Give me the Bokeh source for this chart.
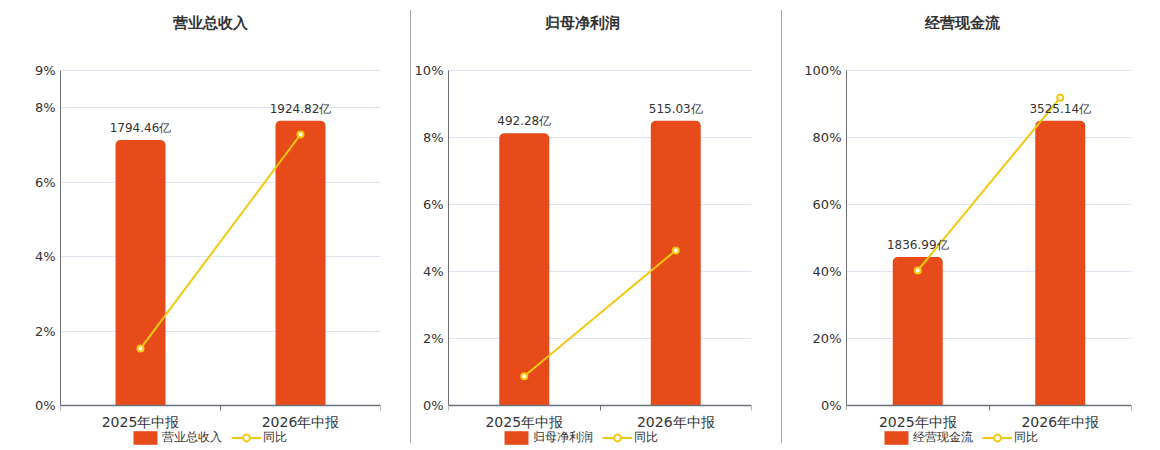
from bokeh.plotting import figure
from bokeh.layouts import row
from bokeh.models import (Range1d, FixedTicker, PrintfTickFormatter, ColumnDataSource,
                          Legend, LegendItem, LabelSet, Label, Div)
from bokeh.core.properties import value
from bokeh.embed import file_html
from bokeh.resources import INLINE

periods = ["2025年中报", "2026年中报"]
titles = ["营业总收入", "归母净利润", "经营现金流"]
revenue = [1794.46, 1924.82]
revenue_yoy = [1.53, 7.28]
profit = [492.28, 515.03]
profit_yoy = [0.87, 4.63]
cashflow = [1836.99, 3525.14]
cashflow_yoy = [40.3, 91.9]
pct_max = [9, 10, 100]
pct_ticks = [[0, 2, 4, 6, 8, 9], [0, 2, 4, 6, 8, 10], [0, 20, 40, 60, 80, 100]]

amounts = [revenue, profit, cashflow]
yoys = [revenue_yoy, profit_yoy, cashflow_yoy]

FONT = "DejaVu Sans"
BAR = "#E84B1A"
LINE = "#F2C811"
AXIS = "#6E7079"
GRID = "#E0E6F1"
TXT = "#333333"

# vertical layout (pixels): frame spans the title, plot area and legend
TOP = 10          # frame top
PLOT_TOP = 70     # top of value area
PLOT_BOT = 405    # zero line
BOT = 448         # frame bottom
PH = PLOT_BOT - PLOT_TOP
FH = BOT - TOP

# per panel: (min_border_left, frame_width, min_border_right, title_x, legend_x)
layout = [(60, 320, 30, 150, 70), (36, 303, 30, 134, 53), (64, 285, 20, 116, 35)]


def padded(top_value):
    k = top_value / PH
    return Range1d(-(BOT - PLOT_BOT) * k, top_value + (PLOT_TOP - TOP) * k)


def make_panel(i):
    ml, fw, mr, tx, lx = layout[i]
    n = len(periods)
    centers = [k + 0.5 for k in range(n)]
    bounds = [k for k in range(n + 1)]
    vals = amounts[i]
    yoy = yoys[i]
    p = figure(frame_width=fw, frame_height=FH, x_range=Range1d(0, n),
               y_range=padded(pct_max[i]), output_backend="svg",
               toolbar_location=None, min_border_left=ml, min_border_right=mr,
               min_border_top=TOP, min_border_bottom=0)
    p.outline_line_color = None
    p.background_fill_color = "white"
    p.border_fill_color = "white"
    xa = p.below[0]
    ya = p.left[0]

    p.extra_y_ranges = {"amt": padded(max(vals) / 0.85)}

    src = ColumnDataSource(dict(x=centers, amt=vals, yoy=yoy,
                                lab=["%.2f亿" % v for v in vals]))
    bw = 50.0 * n / fw
    bars = p.vbar(x="x", top="amt", width=bw, source=src, y_range_name="amt",
                  fill_color=BAR, line_color=None, border_radius=(5, 5, 0, 0))
    labels = LabelSet(x="x", y="amt", text="lab", source=src, y_range_name="amt",
                      text_align="center", text_baseline="bottom", y_offset=5,
                      text_font=value(FONT), text_font_size="12px", text_color=TXT)
    p.add_layout(labels)
    ln = p.line("x", "yoy", source=src, line_color=LINE, line_width=2)
    pts = p.scatter("x", "yoy", source=src, size=6, fill_color="white",
                    line_color=LINE, line_width=2)

    # category axis pinned at zero
    xa.fixed_location = 0
    xa.ticker = FixedTicker(ticks=centers, minor_ticks=bounds)
    xa.major_label_overrides = {c: periods[k] for k, c in enumerate(centers)}
    xa.major_tick_line_color = None
    xa.major_tick_out = 5
    xa.major_tick_in = 0
    xa.minor_tick_line_color = AXIS
    xa.minor_tick_out = 5
    xa.minor_tick_in = 0
    xa.axis_line_color = AXIS
    xa.axis_line_width = 1.5
    xa.major_label_text_font = FONT
    xa.major_label_text_font_size = "14px"
    xa.major_label_text_color = TXT
    xa.major_label_standoff = 3
    xa.axis_label_standoff = 0

    ya.bounds = (0, pct_max[i])
    ya.ticker = FixedTicker(ticks=pct_ticks[i])
    ya.formatter = PrintfTickFormatter(format="%d%%")
    ya.major_tick_line_color = None
    ya.major_tick_out = 0
    ya.major_tick_in = 0
    ya.minor_tick_line_color = None
    ya.minor_tick_out = 0
    ya.minor_tick_in = 0
    ya.axis_line_color = AXIS
    ya.major_label_text_font = FONT
    ya.major_label_text_font_size = "13px"
    ya.major_label_text_color = TXT
    ya.major_label_standoff = 5
    ya.axis_label_standoff = 0

    p.xgrid.grid_line_color = None
    p.ygrid.ticker = FixedTicker(ticks=pct_ticks[i])
    p.ygrid.grid_line_color = GRID

    title = Label(x=tx, y=FH - 12, x_units="screen", y_units="screen", text=titles[i],
                  text_align="center", text_baseline="middle", text_font=FONT,
                  text_font_size="15px", text_font_style="bold", text_color=TXT)
    p.add_layout(title)

    leg = Legend(items=[LegendItem(label=titles[i], renderers=[bars]),
                        LegendItem(label="同比", renderers=[ln, pts])],
                 orientation="horizontal", location=(lx, 2))
    leg.border_line_color = None
    leg.background_fill_alpha = 0
    leg.padding = 0
    leg.margin = 0
    leg.glyph_width = 30
    leg.glyph_height = 17
    leg.label_height = 14
    leg.label_standoff = 2
    leg.spacing = 9
    leg.label_text_font = FONT
    leg.label_text_font_size = "12px"
    leg.label_text_color = TXT
    p.add_layout(leg, "center")
    return p


def sep():
    return Div(width=1, height=433, margin=(10, 0, 0, 0),
               styles={"background-color": "#AAAAAA"})


panels = [make_panel(i) for i in range(3)]
layout_row = row(panels[0], sep(), panels[1], sep(), panels[2])

open("out.html", "w").write(file_html(layout_row, INLINE))
